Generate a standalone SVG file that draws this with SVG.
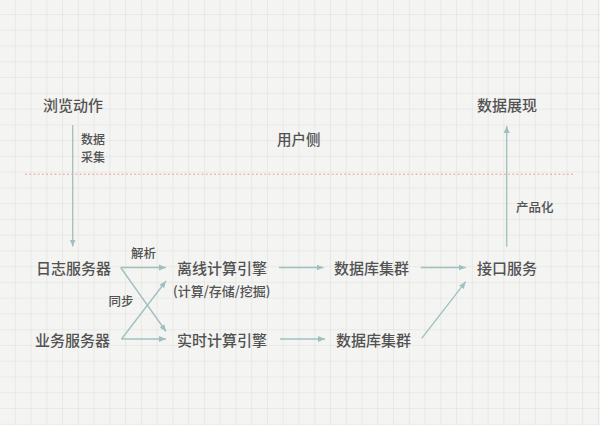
<svg xmlns="http://www.w3.org/2000/svg" width="600" height="425" viewBox="0 0 600 425">
  <defs>
    <pattern id="grid" x="14.8" y="14" width="15.76" height="15.76" patternUnits="userSpaceOnUse">
      <path d="M0,0 V15.76 M0,0 H15.76" fill="none" stroke="#dfdfdb" stroke-width="1.1"/>
    </pattern>
    <marker id="arr" viewBox="0 0 10 10" refX="10" refY="5" markerWidth="7" markerHeight="7" markerUnits="userSpaceOnUse" orient="auto">
      <path d="M0,0.8 L10,5 L0,9.2 z" fill="#9fc0c0"/>
    </marker>
    <style>
      text { font-family: "Noto Sans CJK SC", "Noto Sans", sans-serif; fill: #525252; font-weight: 500; }
      .big { font-size: 15px; }
      .mid { font-size: 14.5px; }
      .small { font-size: 12.5px; }
      .conn line { stroke: #9fc0c0; stroke-width: 1.3; fill: none; marker-end: url(#arr); }
    </style>
  </defs>
  <rect width="600" height="425" fill="#f4f4f2"/>
  <rect width="600" height="425" fill="url(#grid)"/>

  <line x1="25" y1="174.3" x2="573" y2="174.3" stroke="#e9a09c" stroke-width="1.1" stroke-dasharray="2,2.2"/>

  <g id="connectors" class="conn">
    <line x1="72.7" y1="125" x2="72.7" y2="246.5"/>
    <line x1="506.7" y1="246.7" x2="506.7" y2="126"/>
    <line x1="120.7" y1="267.5" x2="166" y2="267.5"/>
    <line x1="120.7" y1="267.5" x2="166" y2="331.5"/>
    <line x1="121.5" y1="339" x2="166" y2="281"/>
    <line x1="121.5" y1="339" x2="166" y2="339"/>
    <line x1="279" y1="267.5" x2="323.5" y2="267.5"/>
    <line x1="280" y1="339" x2="325" y2="339"/>
    <line x1="420.7" y1="267.5" x2="465.7" y2="267.5"/>
    <line x1="421.7" y1="338.3" x2="465.7" y2="281.7"/>
  </g>

  <g id="browse"><text class="big" x="43" y="111">浏览动作</text></g>
  <g id="collect-label"><text x="81" y="144" style="font-size:12px">数据</text><text x="81" y="161.6" style="font-size:12px">采集</text></g>
  <g id="user-side"><text class="mid" x="277" y="145">用户侧</text></g>
  <g id="display"><text class="big" x="477" y="111">数据展现</text></g>
  <g id="product-label"><text class="small" x="516" y="212">产品化</text></g>
  <g id="log-server"><text class="big" x="36" y="274">日志服务器</text></g>
  <g id="parse-label"><text class="small" x="131" y="257.5">解析</text></g>
  <g id="sync-label"><text class="small" x="108.5" y="305.5">同步</text></g>
  <g id="biz-server"><text class="big" x="35" y="345.5">业务服务器</text></g>
  <g id="offline-engine">
    <text class="big" x="177" y="274">离线计算引擎</text>
    <text x="173" y="296" style="font-size:13px">(计算/存储/挖掘)</text>
  </g>
  <g id="realtime-engine"><text class="big" x="177" y="345.5">实时计算引擎</text></g>
  <g id="db-cluster-1"><text class="big" x="334" y="274">数据库集群</text></g>
  <g id="db-cluster-2"><text class="big" x="336" y="345.5">数据库集群</text></g>
  <g id="api-service"><text class="big" x="477" y="274">接口服务</text></g>
</svg>
